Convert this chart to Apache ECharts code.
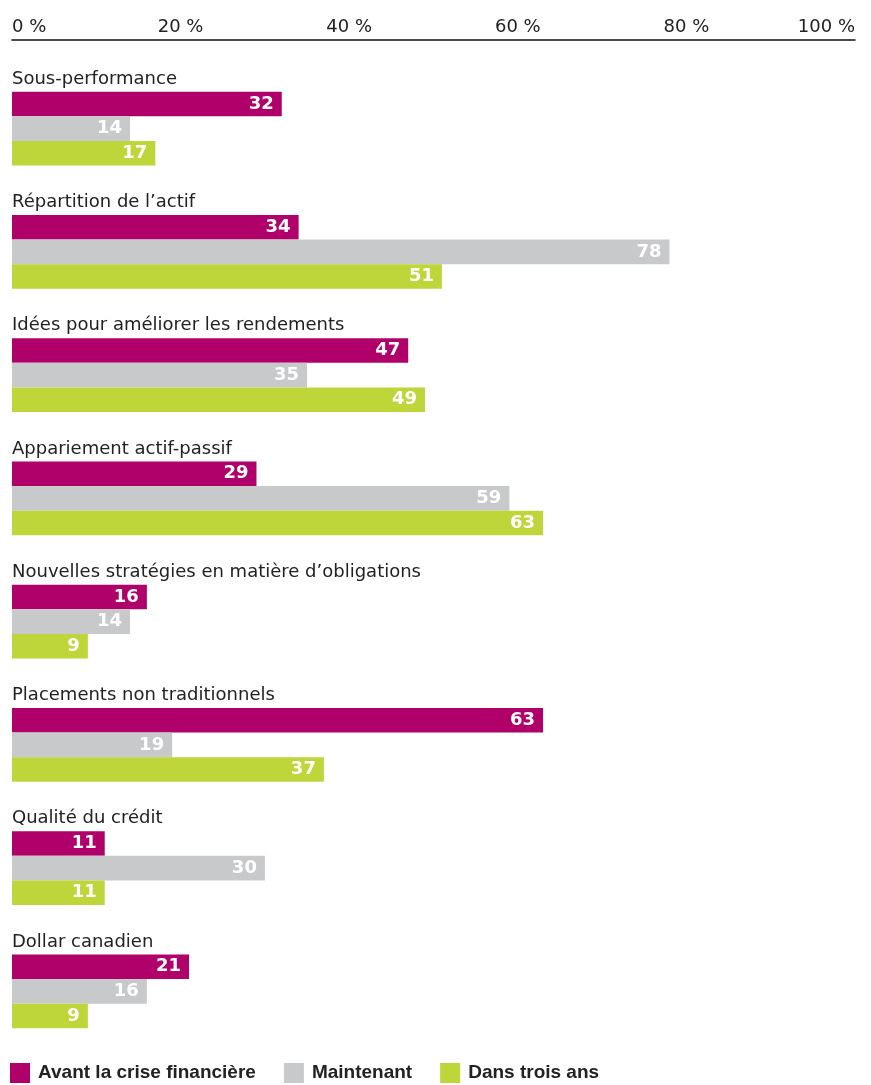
<!DOCTYPE html>
<html><head><meta charset="utf-8">
<script src="https://cdn.jsdelivr.net/npm/echarts@6/dist/echarts.min.js"></script>
<style>html,body{margin:0;padding:0;background:#fff}#c{width:871px;height:1085px}</style>
</head><body><div id="c"></div>
<script>
const categories = ["Sous-performance","Répartition de l’actif","Idées pour améliorer les rendements","Appariement actif-passif","Nouvelles stratégies en matière d’obligations","Placements non traditionnels","Qualité du crédit","Dollar canadien"];
const seriesNames = ["Avant la crise financière","Maintenant","Dans trois ans"];
const avant = [32,34,47,29,16,63,11,21];
const maintenant = [14,78,35,59,14,19,30,16];
const dansTrois = [17,51,49,63,9,37,11,9];
const colors = ["#b0006a","#c8c9cb","#bed63a"];
const font = "'DejaVu Sans', sans-serif";
const legendFont = "'Liberation Sans', Arial, sans-serif";

const chart = echarts.init(document.getElementById('c'), null, {renderer:'canvas'});
const mk = (name, data, color) => ({
  name, type:'bar', data, barWidth:24.6, barGap:'0%',
  itemStyle:{color},
  label:{show:true, position:'insideRight', distance:8, color:'#fff', fontWeight:'bold', fontSize:18, fontFamily:font},
  emphasis:{disabled:true}, animation:false
});
chart.setOption({
  animation:false,
  textStyle:{fontFamily:font},
  grid:{left:12, right:16, top:67, bottom:32, containLabel:false},
  xAxis:{type:'value', position:'top', offset:27, min:0, max:100, interval:20,
    axisLine:{show:true, lineStyle:{color:'#111', width:1.5}},
    axisTick:{show:false}, splitLine:{show:false},
    axisLabel:{formatter:'{value} %', fontSize:18, color:'#222', margin:4, alignMinLabel:'left', alignMaxLabel:'right', fontFamily:font}
  },
  yAxis:{type:'category', inverse:true, data:categories,
    axisLine:{show:false}, axisTick:{show:false},
    axisLabel:{inside:true, interval:0, hideOverlap:false, margin:0, align:'left', verticalAlign:'middle',
      formatter: v => '{a|' + v + '}',
      rich:{a:{padding:[0,0,99,0], fontSize:18, color:'#222', fontFamily:font, align:'left'}},
      fontSize:18, color:'#222', fontFamily:font}
  },
  legend:{left:10, top:1063, padding:0, itemWidth:20, itemHeight:20, itemGap:28, icon:'rect',
    textStyle:{fontSize:19, fontWeight:'bold', color:'#222', fontFamily:legendFont, padding:[0,0,0,3]},
    data:seriesNames
  },
  series:[mk(seriesNames[0], avant, colors[0]), mk(seriesNames[1], maintenant, colors[1]), mk(seriesNames[2], dansTrois, colors[2])]
});
</script></body></html>
